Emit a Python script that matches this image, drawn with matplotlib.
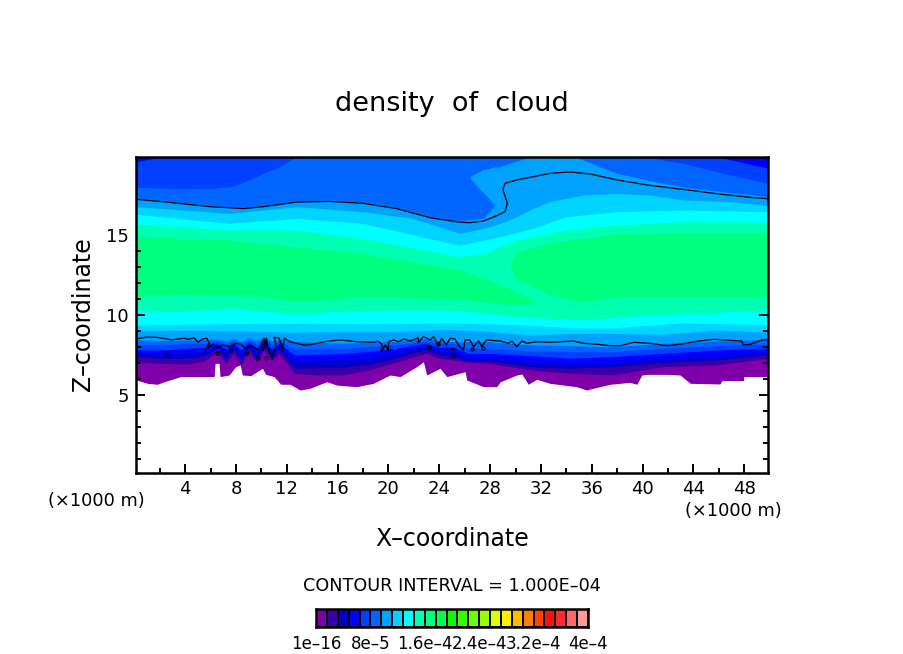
import matplotlib
matplotlib.use("Agg")
import matplotlib.pyplot as plt
from matplotlib.ticker import MultipleLocator

W, H = 904, 654
ZTOP = 19.875

band_colors = ["#7f00a8", "#3a00a6", "#0000c8", "#0000ff", "#0040ff", "#0066ff", "#00a2ff", "#00d4ff",
               "#00ffff", "#00ffb2", "#00ff7f", "#00ff4c", "#00ff00", "#33ff00", "#66ff00", "#99ff00",
               "#ddff00", "#ffee00", "#ffbb00", "#ff7f00", "#ff4400", "#ff1100", "#ff2a2a", "#ff6666", "#ff9999"]
bar_labels = ["1e-16", "8e-5", "1.6e-4", "2.4e-4", "3.2e-4", "4e-4"]
bar_label_levels = [0, 5, 10, 15, 20, 25]

# Lower edge of the cloud (white below)
base_x = [0.125, 1.02, 1.81, 2.33, 3.64, 5.48, 6.27, 6.35, 6.66, 6.74, 7.45, 7.97, 8.32, 8.5, 9.16, 10.07, 10.34, 11.0,
          11.52, 12.25, 13.04, 13.82, 15.14, 15.92, 17.5, 18.81, 20.12, 20.91, 22.22, 22.75, 23.01, 24.06, 24.59,
          26.03, 26.16, 27.47, 28.52, 28.8, 30.1, 30.5, 31.0, 31.67, 32.7, 34.8, 35.6, 36.1, 37.45, 39.0, 39.55,
          39.94, 40.34, 41.91, 42.96, 43.75, 46.1, 46.24, 47.95, 47.96, 49.875]
base_z = [5.94, 5.73, 5.67, 5.83, 6.15, 6.15, 6.15, 6.98, 6.98, 6.15, 6.25, 6.77, 6.88, 6.25, 6.21, 6.67, 6.29, 6.15,
          5.67, 5.67, 5.31, 5.42, 5.83, 5.62, 5.52, 5.73, 6.25, 6.15, 6.77, 7.08, 6.25, 6.67, 6.15,
          6.46, 5.94, 5.52, 5.52, 5.83, 6.25, 6.31, 5.67, 5.98, 5.73, 5.52, 5.31, 5.42, 5.67, 5.79, 5.67,
          6.25, 6.29, 6.29, 6.25, 5.73, 5.69, 5.9, 5.9, 6.15, 6.15]

# Lower-layer band tops at common stations
low_x = [0.125, 2, 4.2, 5.5, 6.5, 7.2, 7.8, 8.4, 9, 9.6, 10.2, 10.8, 11.4, 12.6, 14.5, 16.4, 18.5, 20, 21, 22, 23, 24,
         25, 26.3, 28, 31.2, 34.4, 37.6, 41.6, 45.8, 49.875]
low1 = [7.08, 6.98, 6.92, 7.13, 7.71, 6.98, 7.60, 6.88, 7.71, 7.04, 7.81, 7.13, 7.60, 6.35, 6.25, 6.25, 6.56, 6.92, 7.13,
        7.40, 7.60, 7.29, 7.19, 7.04, 6.98, 6.56, 6.35, 6.25, 6.77, 6.88, 7.29]
low2 = [7.40, 7.29, 7.29, 7.46, 7.92, 7.29, 7.88, 7.19, 7.92, 7.33, 8.02, 7.40, 7.88, 6.67, 6.71, 6.71, 6.92, 7.19, 7.40,
        7.67, 7.81, 7.50, 7.40, 7.13, 7.13, 6.77, 6.67, 6.77, 7.04, 7.19, 7.50]
low3 = [7.60, 7.54, 7.60, 7.71, 8.08, 7.60, 8.08, 7.50, 8.13, 7.60, 8.23, 7.60, 8.08, 7.08, 7.19, 7.19, 7.29, 7.50, 7.67,
        7.88, 8.02, 7.71, 7.71, 7.29, 7.29, 7.08, 6.88, 6.98, 7.29, 7.40, 7.71]
low4 = [7.81, 7.81, 7.92, 7.96, 8.23, 7.88, 8.23, 7.81, 8.29, 7.88, 8.375, 7.88, 8.23, 7.50, 7.54, 7.60, 7.71, 7.88, 7.96,
        8.13, 8.23, 7.96, 8.02, 7.60, 7.60, 7.46, 7.29, 7.40, 7.60, 7.81, 7.92]
low5 = [8.13, 8.13, 8.23, 8.23, 8.375, 8.17, 8.375, 8.13, 8.44, 8.17, 8.5, 8.17, 8.375, 7.92, 7.92, 7.92, 8.02, 8.13, 8.17,
        8.29, 8.375, 8.23, 8.23, 7.92, 7.92, 7.75, 7.71, 7.71, 7.92, 8.08, 8.19]
low6 = [8.44, 8.40, 8.44, 8.46, 8.5, 8.375, 8.54, 8.33, 8.58, 8.375, 8.63, 8.375, 8.5, 8.33, 8.29, 8.23, 8.29, 8.33, 8.375,
        8.46, 8.54, 8.42, 8.33, 8.33, 8.33, 8.13, 8.08, 8.02, 8.23, 8.375, 8.48]
low7_x = [0.125, 4.2, 8.4, 12.25, 16.4, 20.6, 24.85, 28, 31.2, 34.4, 37.45, 41.6, 45.8, 49.875]
low7 = [9.0, 9.05, 9.0, 8.92, 8.96, 8.96, 9.1, 8.96, 8.75, 8.85, 8.85, 8.79, 9.06, 8.92]
low8_x = [0.125, 7.5, 12.8, 18, 25, 30, 34.4, 37.6, 43, 49.875]
low8 = [9.38, 9.45, 9.48, 9.45, 9.5, 9.4, 9.2, 9.2, 9.5, 9.4]
low9_x = [0.125, 2.9, 7.5, 12.8, 18, 25.6, 30.1, 35.35, 40.6, 49.875]
low9 = [10.35, 10.2, 10.4, 10.1, 10.3, 10.3, 9.9, 9.69, 10.0, 10.31]
low10_x = [0.125, 3.6, 10.15, 12.8, 18, 25.6, 28.8, 31.9, 49.875]
low10 = [11.15, 11.3, 11.15, 10.83, 11.15, 11.0, 10.69, 10.69, 10.69]

# Upper-layer band bottoms
up10_x = [0.125, 7.5, 12.8, 18, 25.6, 27.5, 30.1, 31.9, 49.875]
up10 = [14.94, 14.69, 14.27, 13.85, 12.81, 12.3, 11.46, 10.69, 10.69]
up9_x = [0.125, 7.5, 12.8, 18, 25.6, 27.5, 30.1, 34, 38, 43.2, 49.875]
up9 = [15.69, 15.31, 15.31, 14.79, 13.65, 13.85, 14.69, 15.31, 15.62, 15.83, 15.8]
up8_x = [0.125, 7.5, 12.8, 18, 25.6, 28.8, 31.4, 34, 38, 43.2, 49.875]
up8 = [16.3, 15.73, 16.04, 15.73, 14.35, 14.9, 15.42, 16.15, 16.46, 16.56, 16.46]
up7_x = [0.125, 7.5, 12.8, 18, 21.9, 25.6, 27.5, 28.8, 30.1, 31.4, 32.7, 35.35, 38, 40.6, 43.2, 47, 49.875]
up7 = [16.77, 16.35, 16.77, 16.46, 16.04, 15.1, 15.42, 15.73, 16.15, 16.67, 17.08, 17.5, 17.6, 17.5, 17.19, 17.08, 16.85]
up6_x = [0.125, 2.3, 5.95, 8.6, 10.15, 12.8, 15.4, 18, 20.65, 23.3, 25.6, 27.5, 28.4, 28.45, 30, 31.5, 34.5, 36.5, 38,
         40.6, 43.2, 45.85, 49.875]
up6 = [17.31, 17.16, 16.85, 16.73, 16.85, 17.14, 17.18, 17.06, 16.73, 16.16, 15.88, 16.05, 16.9, 19.2, 19.6, 19.95,
       19.95, 19.3, 18.85, 18.4, 18.0, 17.75, 17.4]
up5_left_x = [0.125, 3.6, 6.2, 7.5, 8.3, 9, 10.15, 11.5, 12.8]
up5_left = [17.98, 17.9, 17.92, 18.02, 18.2, 18.44, 18.85, 19.3, 19.9]
up5_right_x = [40, 43.2, 45.85, 49.875]
up5_right = [19.9, 19.48, 18.96, 18.23]
up4_left_x = [0.125, 2.2]
up4_left = [19.58, 19.9]
up4_right_x = [45.85, 49.875]
up4_right = [19.9, 19.17]

# Regions that fold over the single-valued bands
tongue_x = [26.5, 27.5, 28.5, 28.5, 28.4, 27.5, 26.5]
tongue_z = [18.6, 19.0, 19.2, 17.0, 16.9, 17.7, 18.5]
patch_x = [29.6, 30.1, 32.7, 35.35, 38, 43, 49.875, 49.875, 43.2, 38, 35.35, 32.7, 30.1]
patch_z = [13.0, 13.85, 14.48, 14.73, 15.0, 15.1, 15.1, 11.15, 11.15, 11.15, 10.8, 11.3, 12.3]

# 1.000E-04 contour
upper_line_x = [0.125, 2.28, 5.95, 8.58, 10.15, 12.78, 15.4, 18.0, 20.65, 23.3, 25.6, 26.4, 27.47, 28.5, 29.18, 29.36,
                29.0, 29.18, 30.1, 32.7, 34.3, 35.9, 38, 40.6, 43.2, 45.85, 48.5, 49.875]
upper_line_z = [17.23, 17.08, 16.77, 16.65, 16.77, 17.06, 17.1, 16.98, 16.65, 16.08, 15.8, 15.77, 15.875, 16.2, 16.46,
                16.98, 17.85, 18.23, 18.44, 18.85, 18.94, 18.81, 18.44, 18.1, 17.85, 17.58, 17.35, 17.27]
lower_line_x = [0.125, 1.0, 1.8, 2.3, 2.9, 3.4, 3.9, 4.3, 4.7, 5.0, 5.35, 5.7, 5.9, 5.6, 6.15, 6.55, 6.95, 7.45, 8.0, 8.4,
                8.8, 9.2, 9.8, 10.2, 10.4, 10.1, 10.4, 10.5, 10.85, 11.15, 11.0, 11.4, 11.65, 11.8, 12.25, 13.3, 13.8,
                14.35, 14.9, 16.2, 17.5, 18.8, 19.2, 19.5, 19.47, 19.73, 20.0, 20.0, 20.4, 20.8, 21.2, 21.7, 22.35,
                22.35, 22.75, 23.3, 23.55, 23.93, 24.2, 24.55, 24.85, 25.24, 25.5, 25.9, 26.03, 26.4, 26.7, 27.1,
                27.34, 27.7, 28.8, 29.44, 29.7, 30.1, 30.5, 30.9, 31.67, 32.7, 34.56, 35.35, 36.4, 37.45, 38.24,
                39.3, 40.6, 41.9, 42.96, 44, 45.6, 46.4, 47.8, 47.95, 48.5, 49.4, 49.875]
lower_line_z = [8.5, 8.62, 8.6, 8.54, 8.44, 8.5, 8.54, 8.48, 8.58, 8.29, 8.5, 8.54, 8.23, 7.88, 8.17, 7.96, 8.13, 8.02,
                8.23, 8.17, 7.88, 8.08, 7.81, 8.54, 8.13, 7.81, 8.55, 7.9, 7.3, 8.1, 8.6, 8.55, 7.9, 8.55, 8.33, 8.13,
                8.13, 8.23, 8.33, 8.44, 8.33, 8.29, 8.375, 8.13, 7.71, 8.13, 7.81, 8.33, 8.44, 8.33, 8.5, 8.38, 8.58,
                8.29, 8.65, 8.44, 8.65, 8.13, 8.54, 8.13, 8.54, 8.5, 8.13, 7.81, 8.44, 8.44, 8.02, 8.375, 8.02, 8.44,
                8.375, 8.23, 8.375, 8.02, 8.375, 8.23, 8.33, 8.29, 8.375, 8.23, 8.17, 8.08, 8.08, 8.29, 8.23, 8.08,
                8.17, 8.33, 8.48, 8.44, 8.375, 8.13, 8.17, 8.44, 8.48]
loop_x = [2.5, 6.48, 7.58, 8.9, 9.7, 10.34, 23.2, 23.93, 25.0, 25.1, 26.55, 27.47]
loop_z = [7.54, 7.6, 7.81, 7.6, 7.33, 7.3, 8.02, 8.2, 7.9, 7.46, 7.88, 7.92]


def px(x, y):
    return x / W, 1 - y / H


fig = plt.figure(figsize=(W / 100, H / 100), dpi=100, facecolor="white")
ax = fig.add_axes([136 / W, 1 - 473 / H, 632 / W, 316 / H])
ax.set_xlim(0.125, 49.875)
ax.set_ylim(0.125, ZTOP)


def band(xs, zs, idx, order):
    ax.fill_between(xs, zs, ZTOP + 1, color=band_colors[idx], lw=0, antialiased=False, zorder=order)


lower_layers = [(base_x, base_z), (low_x, low1), (low_x, low2), (low_x, low3), (low_x, low4), (low_x, low5),
                (low_x, low6), (low7_x, low7), (low8_x, low8), (low9_x, low9), (low10_x, low10)]
for i, (xs, zs) in enumerate(lower_layers):
    band(xs, zs, i, 1 + i * 0.01)

upper_layers = [(up10_x, up10, 9), (up9_x, up9, 8), (up8_x, up8, 7), (up7_x, up7, 6), (up6_x, up6, 5),
                (up5_left_x, up5_left, 4), (up5_right_x, up5_right, 4), (up4_left_x, up4_left, 3),
                (up4_right_x, up4_right, 3)]
for i, (xs, zs, c) in enumerate(upper_layers):
    band(xs, zs, c, 2 + i * 0.01)

ax.fill(tongue_x, tongue_z, color=band_colors[6], lw=0, antialiased=False, zorder=3)
ax.fill(patch_x, patch_z, color=band_colors[10], lw=0, antialiased=False, zorder=3)

ax.plot(upper_line_x, upper_line_z, color="black", lw=0.9, zorder=4)
ax.plot(lower_line_x, lower_line_z, color="black", lw=0.9, zorder=4)
ax.plot(loop_x, loop_z, ls="none", marker="o", ms=2.2, mfc="none", mec="black", mew=0.8, zorder=4)

ax.xaxis.set_major_locator(MultipleLocator(4))
ax.xaxis.set_minor_locator(MultipleLocator(2))
ax.yaxis.set_major_locator(MultipleLocator(5))
ax.yaxis.set_minor_locator(MultipleLocator(1))
ax.tick_params(which="both", direction="in", top=True, right=True, width=1.4)
ax.tick_params(which="major", length=6.5, labelsize=13, pad=5)
ax.tick_params(which="minor", length=3.6)
for s in ax.spines.values():
    s.set_linewidth(1.8)
    s.set_zorder(6)

T = dict(color="black", ha="center", va="center")
fig.text(*px(452, 104), "density  of  cloud", fontsize=19.5, **T)
fig.text(*px(96, 501), "(×1000 m)", fontsize=12.8, **T)
fig.text(*px(733, 511), "(×1000 m)", fontsize=12.8, **T)
fig.text(*px(452, 539), "X–coordinate", fontsize=17, **T)
fig.text(*px(83, 314), "Z–coordinate", fontsize=17, rotation=90, **T)
fig.text(*px(452, 586), "CONTOUR INTERVAL = 1.000E–04", fontsize=12.7, **T)

cax = fig.add_axes([316 / W, 1 - 627 / H, 272 / W, 18 / H])
cax.set_xlim(0, len(band_colors))
cax.set_ylim(0, 1)
for i, c in enumerate(band_colors):
    cax.bar(i + 0.5, 1, width=1, color=c, edgecolor="black", lw=1.4)
cax.set_yticks([])
cax.set_xticks(bar_label_levels, [s.replace("-", "–") for s in bar_labels], fontsize=12)
cax.tick_params(length=0, pad=6)
for s in cax.spines.values():
    s.set_linewidth(1.8)

fig.savefig("out.png", dpi=100)
